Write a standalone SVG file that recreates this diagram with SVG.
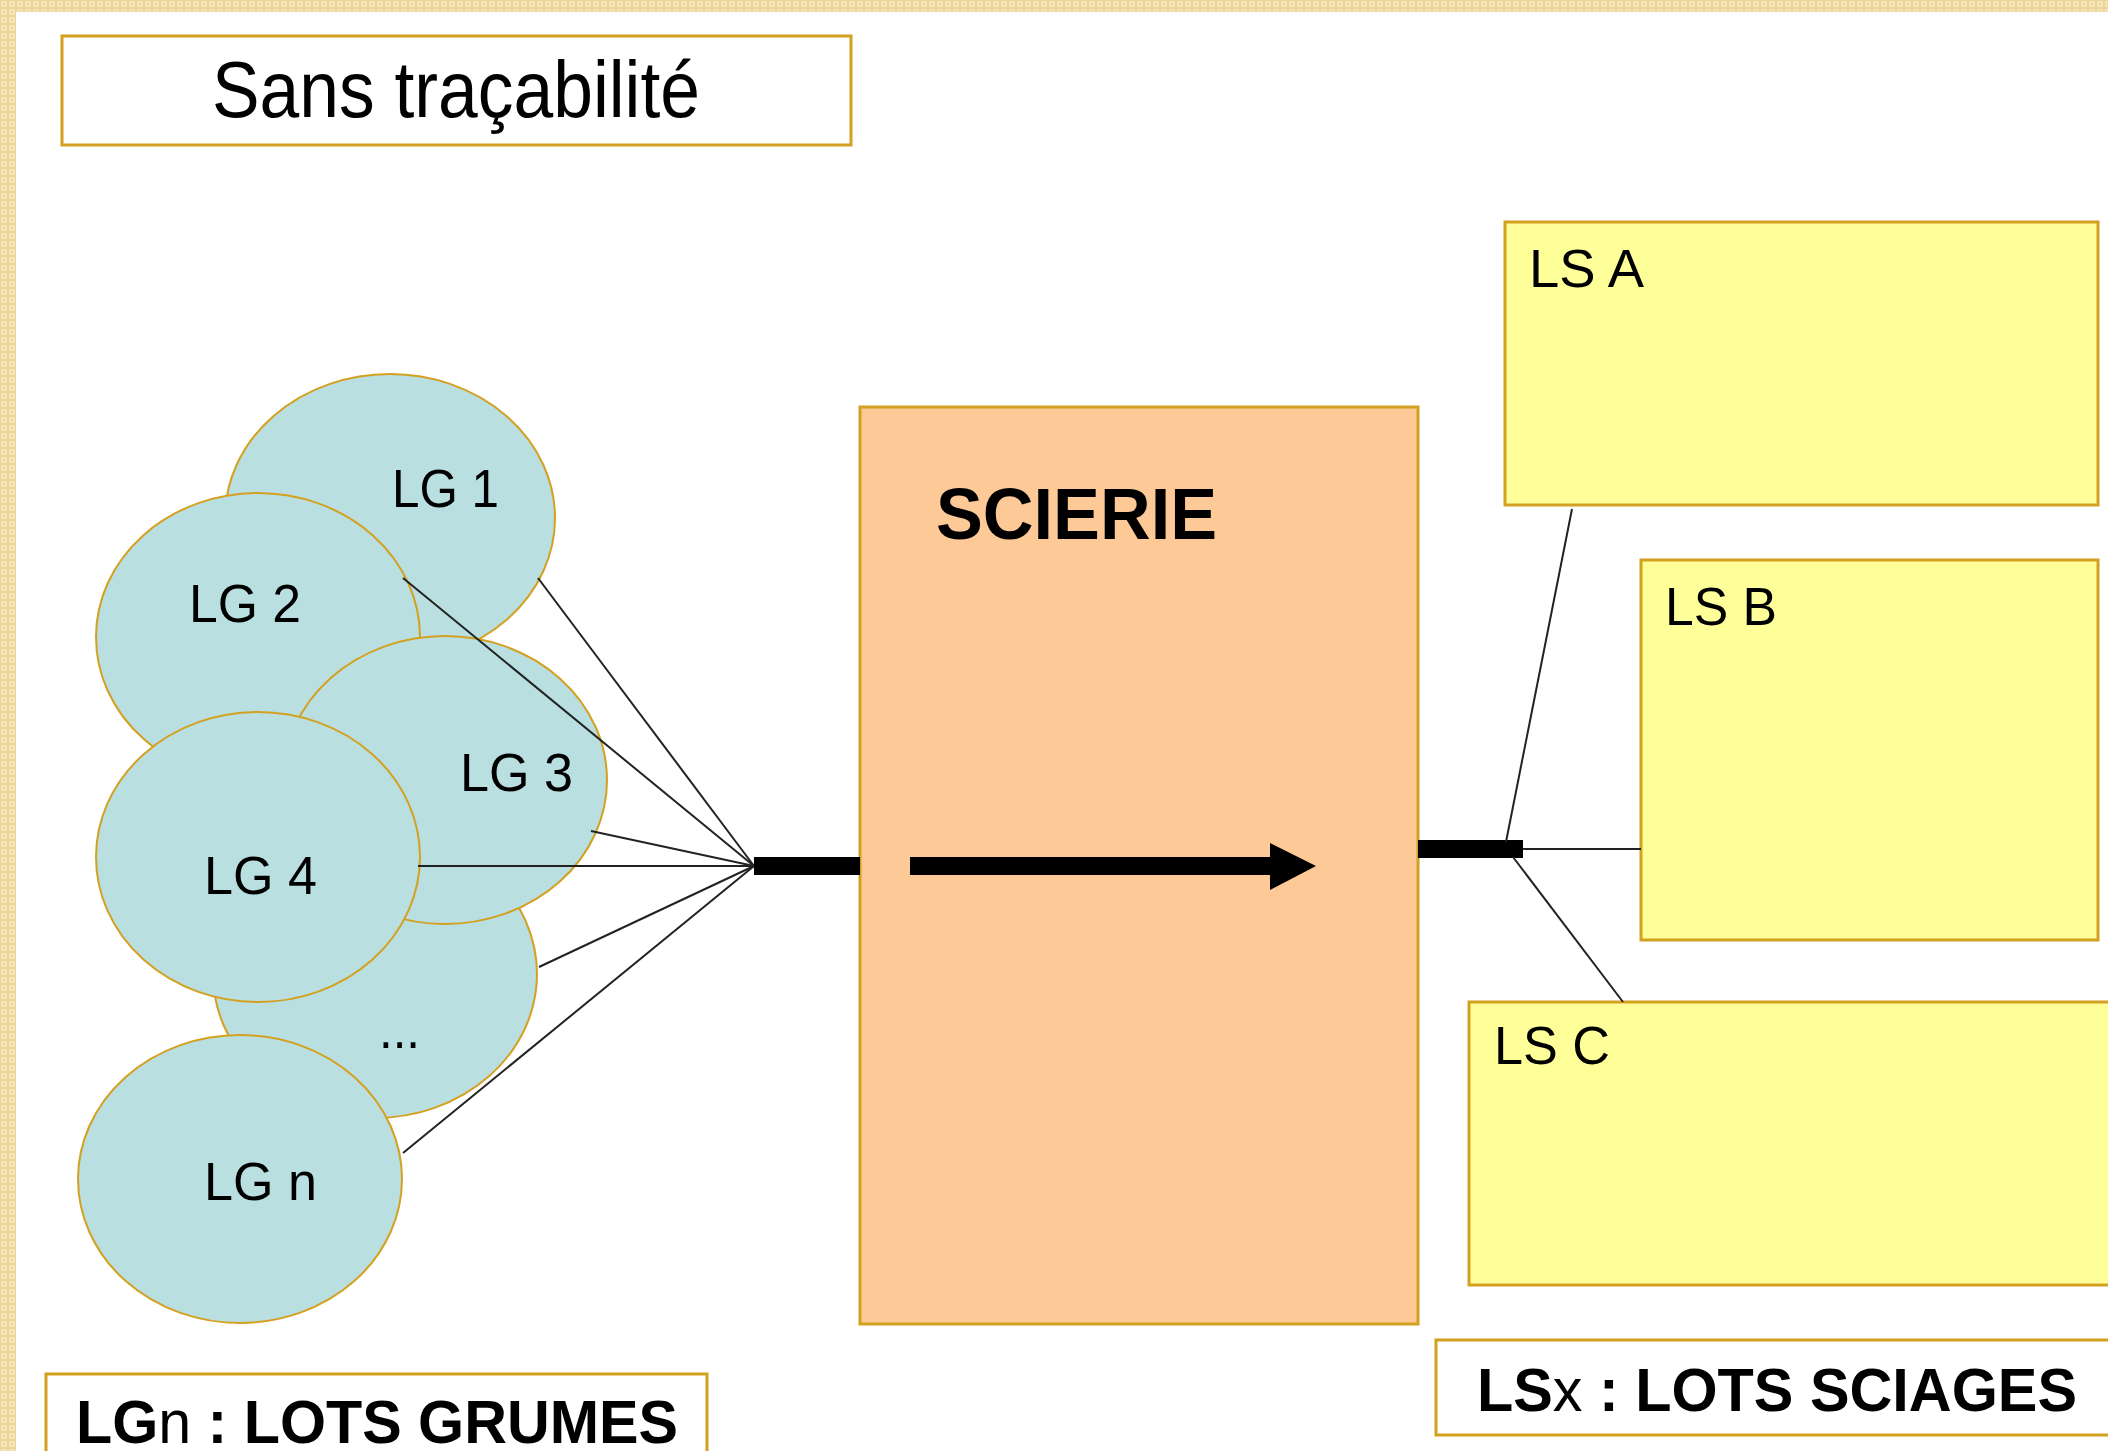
<svg xmlns="http://www.w3.org/2000/svg" width="2108" height="1451" viewBox="0 0 2108 1451">
  <defs>
    <pattern id="chk" x="0" y="0" width="8" height="8" patternUnits="userSpaceOnUse">
      <rect width="8" height="8" fill="#ead598"/>
      <rect x="1" y="1" width="6" height="6" fill="#f4e4b8"/>
      <rect x="3" y="3" width="2" height="2" fill="#ead598"/>
    </pattern>
    <style>
      text { font-family: "Liberation Sans", Arial, sans-serif; fill: #000; }
      .lg { fill: #b9dfe1; stroke: #d4a020; stroke-width: 2; }
      .ls { fill: #ffff99; stroke: #d4a020; stroke-width: 3; }
      .lbl { fill: #ffffff; stroke: #d4a020; stroke-width: 3; }
      .cn { stroke: #222; stroke-width: 2; fill: none; }
      .t54 { font-size: 54px; }
      .b61 { font-size: 61px; font-weight: bold; }
    </style>
  </defs>

  <rect x="0" y="0" width="2108" height="1451" fill="#ffffff"/>
  <rect x="0" y="0" width="2108" height="12" fill="url(#chk)"/>
  <rect x="0" y="0" width="16" height="1451" fill="url(#chk)"/>

  <g id="title">
    <rect class="lbl" x="62" y="36" width="789" height="109"/>
    <text x="212" y="117" font-size="79" textLength="488" lengthAdjust="spacingAndGlyphs">Sans traçabilité</text>
  </g>

  <g id="lg1"><ellipse class="lg" cx="390" cy="518" rx="165" ry="144"/>
    <text class="t54" x="392" y="507" textLength="107" lengthAdjust="spacingAndGlyphs">LG 1</text></g>
  <g id="lg2"><ellipse class="lg" cx="258" cy="637" rx="162" ry="144"/>
    <text class="t54" x="189" y="622" textLength="112" lengthAdjust="spacingAndGlyphs">LG 2</text></g>
  <g id="lgdots"><ellipse class="lg" cx="375" cy="974" rx="162" ry="144"/>
    <text class="t54" x="379" y="1048" textLength="41" lengthAdjust="spacingAndGlyphs">...</text></g>
  <g id="lg3"><ellipse class="lg" cx="445" cy="780" rx="162" ry="144"/>
    <text class="t54" x="460" y="791" textLength="113" lengthAdjust="spacingAndGlyphs">LG 3</text></g>
  <g id="lg4"><ellipse class="lg" cx="258" cy="857" rx="162" ry="145"/>
    <text class="t54" x="204" y="894" textLength="113" lengthAdjust="spacingAndGlyphs">LG 4</text></g>
  <g id="lgn"><ellipse class="lg" cx="240" cy="1179" rx="162" ry="144"/>
    <text class="t54" x="204" y="1200" textLength="113" lengthAdjust="spacingAndGlyphs">LG n</text></g>

  <g id="scierie">
    <rect x="860" y="407" width="558" height="917" fill="#fdc997" stroke="#d4a020" stroke-width="3"/>
    <text x="936" y="539" font-size="73" font-weight="bold" textLength="281" lengthAdjust="spacingAndGlyphs">SCIERIE</text>
    <rect x="910" y="857" width="362" height="18" fill="#000"/>
    <polygon points="1270,843 1316,866 1270,890" fill="#000"/>
  </g>

  <g id="lsa">
    <rect class="ls" x="1505" y="222" width="593" height="283"/>
    <text class="t54" x="1529" y="287" textLength="115" lengthAdjust="spacingAndGlyphs">LS A</text>
  </g>
  <g id="lsb">
    <rect class="ls" x="1641" y="560" width="457" height="380"/>
    <text class="t54" x="1665" y="625" textLength="112" lengthAdjust="spacingAndGlyphs">LS B</text>
  </g>
  <g id="lsc">
    <rect class="ls" x="1469" y="1002" width="660" height="283"/>
    <text class="t54" x="1494" y="1064" textLength="116" lengthAdjust="spacingAndGlyphs">LS C</text>
  </g>

  <g id="legend-ls">
    <rect class="lbl" x="1436" y="1340" width="700" height="95"/>
    <text class="b61" x="1477" y="1411" textLength="600" lengthAdjust="spacingAndGlyphs">LS<tspan font-weight="normal">x</tspan> : LOTS SCIAGES</text>
  </g>
  <g id="legend-lg">
    <rect class="lbl" x="46" y="1374" width="661" height="100"/>
    <text class="b61" x="76" y="1443" textLength="602" lengthAdjust="spacingAndGlyphs">LG<tspan font-weight="normal">n</tspan> : LOTS GRUMES</text>
  </g>

  <g id="connectors">
    <line class="cn" x1="538" y1="578" x2="754" y2="866"/>
    <line class="cn" x1="403" y1="578" x2="754" y2="866"/>
    <line class="cn" x1="591" y1="831" x2="754" y2="866"/>
    <line class="cn" x1="418" y1="866" x2="754" y2="866"/>
    <line class="cn" x1="539" y1="967" x2="754" y2="866"/>
    <line class="cn" x1="403" y1="1153" x2="754" y2="866"/>
    <rect x="754" y="857" width="106" height="18" fill="#000"/>
    <rect x="1418" y="840" width="105" height="18" fill="#000"/>
    <line class="cn" x1="1572" y1="509" x2="1506" y2="842"/>
    <line class="cn" x1="1523" y1="849" x2="1641" y2="849"/>
    <line class="cn" x1="1513" y1="857" x2="1623" y2="1002"/>
  </g>
</svg>
